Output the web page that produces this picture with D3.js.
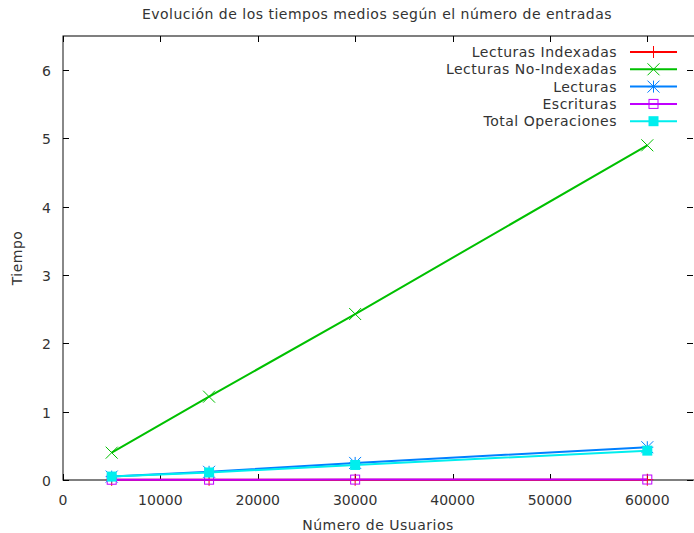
<!DOCTYPE html>
<html>
<head>
<meta charset="utf-8">
<script src="https://cdn.jsdelivr.net/npm/d3@7"></script>
<style>
  body { margin: 0; background: #fff; }
  text { font-family: "DejaVu Sans", sans-serif; fill: #333; font-size: 14px; }
  .lbl { letter-spacing: 0.5px; }
</style>
</head>
<body>
<div id="chart"></div>
<script>
// Datos
const usuarios = [5000, 15000, 30000, 60000];
const lecturasIndexadas = [0.002, 0.003, 0.003, 0.004];
const lecturasNoIndexadas = [0.40, 1.22, 2.43, 4.90];
const lecturas = [0.05, 0.12, 0.25, 0.48];
const escrituras = [0.004, 0.005, 0.006, 0.007];
const totalOperaciones = [0.05, 0.11, 0.22, 0.43];

const xTicks = [0, 10000, 20000, 30000, 40000, 50000, 60000];
const yTicks = [0, 1, 2, 3, 4, 5, 6];

const series = [
  { name: "Lecturas Indexadas", values: lecturasIndexadas, color: "#ff0000", symbol: "plus" },
  { name: "Lecturas No-Indexadas", values: lecturasNoIndexadas, color: "#00c000", symbol: "cross" },
  { name: "Lecturas", values: lecturas, color: "#0080ff", symbol: "star" },
  { name: "Escrituras", values: escrituras, color: "#c000ff", symbol: "box" },
  { name: "Total Operaciones", values: totalOperaciones, color: "#00eeee", symbol: "fbox" }
];

const width = 694, height = 533;
const margin = { top: 36, right: -2, bottom: 53, left: 63 };

const svg = d3.select("#chart").append("svg")
  .attr("width", width)
  .attr("height", height);

const x = d3.scaleLinear().domain([0, 65000]).range([margin.left, width - margin.right]);
const y = d3.scaleLinear().domain([0, 6.5]).range([height - margin.bottom, margin.top]);

const x0 = x.range()[0], x1 = x.range()[1];
const y0 = y.range()[0], y1 = y.range()[1];

// Marco
svg.append("rect")
  .attr("x", x0).attr("y", y1)
  .attr("width", x1 - x0).attr("height", y0 - y1)
  .attr("fill", "none").attr("stroke", "#000").attr("stroke-width", 1);
svg.append("line")
  .attr("x1", x0).attr("x2", x0).attr("y1", y1).attr("y2", y0)
  .attr("stroke", "#888").attr("stroke-width", 2);

// Ticks (hacia dentro, con espejo)
const tickLen = 6;
const ticks = svg.append("g").attr("stroke", "#000").attr("stroke-width", 1);
xTicks.forEach(t => {
  const px = Math.round(x(t)) + 0.5;
  ticks.append("line").attr("x1", px).attr("x2", px).attr("y1", y0).attr("y2", y0 - tickLen);
  ticks.append("line").attr("x1", px).attr("x2", px).attr("y1", y1).attr("y2", y1 + tickLen);
  svg.append("text")
    .attr("x", x(t)).attr("y", y0 + 25)
    .attr("text-anchor", "middle")
    .text(t);
});
yTicks.forEach(t => {
  const py = Math.round(y(t)) + 0.5;
  ticks.append("line").attr("x1", x0).attr("x2", x0 + tickLen).attr("y1", py).attr("y2", py);
  ticks.append("line").attr("x1", x1 - 3).attr("x2", x1 - 3 - tickLen).attr("y1", py).attr("y2", py);
  svg.append("text")
    .attr("x", x0 - 12).attr("y", y(t) + 6)
    .attr("text-anchor", "end")
    .text(t);
});

// Títulos
svg.append("text")
  .attr("class", "lbl")
  .attr("x", 377).attr("y", 19)
  .attr("text-anchor", "middle")
  .text("Evolución de los tiempos medios según el número de entradas");
svg.append("text")
  .attr("class", "lbl")
  .attr("x", 378).attr("y", 530)
  .attr("text-anchor", "middle")
  .text("Número de Usuarios");
svg.append("text")
  .attr("class", "lbl")
  .attr("transform", "translate(22,258) rotate(-90)")
  .attr("text-anchor", "middle")
  .text("Tiempo");

// Símbolos de puntos
function drawSymbol(g, type, cx, cy, color) {
  const s = 6;
  const line = (a, b, c, d) => g.append("line")
    .attr("x1", cx + a).attr("y1", cy + b).attr("x2", cx + c).attr("y2", cy + d)
    .attr("stroke", color).attr("stroke-width", 1);
  if (type === "plus") {
    line(-s, 0, s, 0); line(0, -s, 0, s);
  } else if (type === "cross") {
    line(-s, -s, s, s); line(-s, s, s, -s);
  } else if (type === "star") {
    line(-s, 0, s, 0); line(0, -s, 0, s);
    line(-s, -s, s, s); line(-s, s, s, -s);
  } else if (type === "box") {
    g.append("rect").attr("x", cx - 4.5).attr("y", cy - 4.5).attr("width", 9).attr("height", 9)
      .attr("fill", "none").attr("stroke", color).attr("stroke-width", 1);
  } else if (type === "fbox") {
    g.append("rect").attr("x", cx - 5).attr("y", cy - 5).attr("width", 10).attr("height", 10)
      .attr("fill", color);
  }
}

const lineGen = d3.line().x(d => x(d[0])).y(d => y(d[1]));
const plot = svg.append("g");

series.forEach(s => {
  const pts = usuarios.map((u, i) => [u, s.values[i]]);
  const g = plot.append("g");
  g.append("path")
    .datum(pts)
    .attr("d", lineGen)
    .attr("fill", "none")
    .attr("stroke", s.color)
    .attr("stroke-width", 2);
  pts.forEach(p => drawSymbol(g, s.symbol, x(p[0]), y(p[1]), s.color));
});

// Leyenda
const legend = svg.append("g");
series.forEach((s, i) => {
  const ly = 52 + i * 17.3;
  legend.append("text")
    .attr("class", "lbl")
    .attr("x", 617).attr("y", ly + 5)
    .attr("text-anchor", "end")
    .text(s.name);
  legend.append("line")
    .attr("x1", 630).attr("x2", 677).attr("y1", ly).attr("y2", ly)
    .attr("stroke", s.color).attr("stroke-width", 2);
  drawSymbol(legend, s.symbol, 653.5, ly, s.color);
});
</script>
</body>
</html>
